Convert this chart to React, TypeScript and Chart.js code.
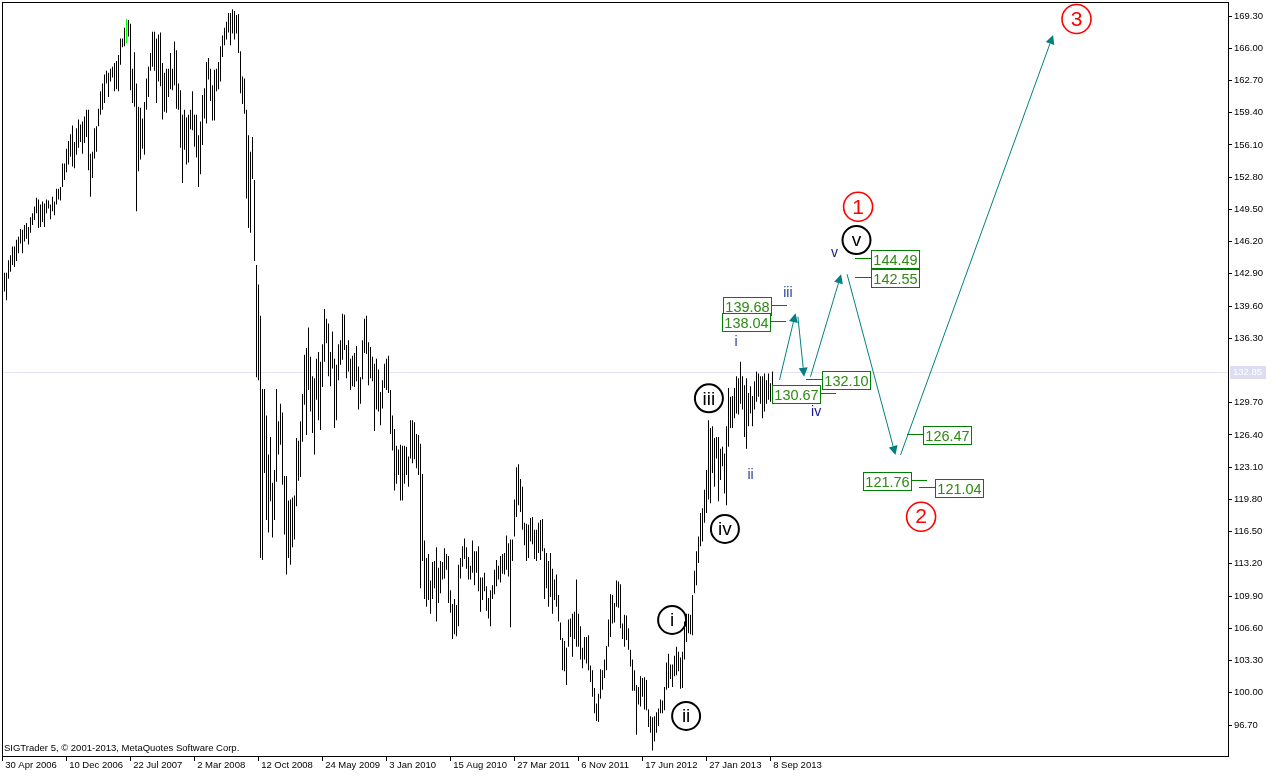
import React, { useEffect, useRef } from "react";
import { Chart, registerables } from "chart.js";

Chart.register(...registerables);

// Weekly bars, 30 Apr 2006 .. Sep 2013 (high / low)
const weekHigh: number[] = [
  143.0, 143.0, 144.3, 144.8, 145.7, 145.7, 146.4, 146.7, 147.5, 147.4,
  147.9, 148.1, 147.7, 148.7, 149.1, 149.8, 150.7, 150.5, 150.0, 150.3,
  150.1, 150.5, 150.4, 150.0, 150.8, 150.3, 151.6, 151.6, 151.8, 154.2,
  154.2, 155.7, 156.5, 157.2, 158.1, 156.4, 157.8, 158.7, 158.2, 158.5,
  159.0, 159.7, 159.7, 155.2, 155.4, 157.8, 158.0, 159.8, 161.6, 162.4,
  163.3, 163.7, 163.5, 163.9, 164.1, 164.5, 164.7, 165.3, 167.0, 167.0,
  168.1, 169.0, 168.9, 168.5, 163.9, 165.6, 162.4, 160.0, 159.9, 158.8,
  160.5, 162.9, 164.1, 165.5, 167.7, 167.7, 167.0, 167.4, 167.6, 164.5,
  163.5, 163.9, 163.9, 165.5, 163.9, 166.7, 165.8, 162.4, 161.7, 159.2,
  159.7, 158.9, 159.2, 159.7, 161.6, 159.2, 159.2, 157.1, 158.5, 161.2,
  161.9, 164.6, 165.0, 163.9, 162.2, 163.8, 163.9, 164.6, 166.2, 167.3,
  168.1, 168.7, 169.6, 169.6, 170.0, 169.8, 169.4, 169.5, 165.7, 163.1,
  162.9, 159.7, 157.1, 155.4, 156.9, 152.5, 143.8, 141.8, 138.6, 131.1,
  131.1, 128.4, 124.4, 126.2, 121.5, 122.8, 131.1, 127.8, 129.6, 128.7,
  122.2, 122.2, 119.7, 119.8, 120.0, 120.2, 126.1, 125.8, 127.8, 130.6,
  134.6, 135.3, 137.4, 134.4, 132.4, 132.2, 134.2, 134.9, 133.9, 135.7,
  139.3, 138.3, 137.8, 134.9, 137.0, 134.2, 133.6, 135.7, 136.1, 138.8,
  138.7, 135.6, 136.1, 134.2, 134.5, 134.8, 135.5, 133.4, 132.3, 136.1,
  138.3, 138.6, 135.9, 135.4, 134.4, 133.7, 134.2, 133.1, 130.8, 132.0,
  133.7, 134.2, 134.5, 131.0, 128.4, 127.0, 125.3, 124.9, 125.4, 125.3,
  125.3, 125.2, 124.2, 127.9, 127.9, 127.7, 126.5, 126.4, 125.5, 122.4,
  115.6, 113.8, 114.2, 111.5, 113.4, 113.5, 114.9, 112.8, 113.5, 113.4,
  114.8, 114.2, 114.0, 110.5, 109.1, 109.6, 109.0, 113.1, 113.8, 115.0,
  115.8, 114.9, 113.9, 113.0, 115.6, 114.5, 114.5, 115.0, 111.8, 111.8,
  112.3, 110.9, 109.7, 110.5, 111.0, 112.6, 113.6, 113.0, 114.0, 114.2,
  114.3, 116.1, 115.3, 115.7, 115.7, 119.8, 123.1, 123.4, 121.9, 121.1,
  117.4, 117.3, 117.2, 117.9, 118.0, 116.7, 116.7, 117.4, 117.7, 117.8,
  114.8, 114.3, 113.5, 114.3, 112.7, 111.6, 112.1, 110.0, 107.2, 105.6,
  105.3, 104.6, 107.5, 107.6, 108.1, 108.3, 111.6, 108.1, 106.8, 104.6,
  105.7, 105.7, 105.9, 102.8, 102.3, 100.5, 98.9, 99.9, 102.4, 102.3,
  103.4, 104.8, 107.5, 110.1, 110.0, 109.2, 111.5, 111.4, 111.1, 107.1,
  108.0, 107.9, 106.6, 104.4, 103.4, 102.3, 100.8, 100.6, 101.7, 101.5,
  101.6, 101.3, 98.3, 97.6, 97.5, 97.6, 98.0, 98.4, 99.3, 99.2,
  100.6, 103.1, 104.0, 102.9, 102.9, 103.8, 104.7, 104.2, 103.6, 104.2,
  107.3, 108.1, 108.1, 108.0, 110.0, 112.5, 114.5, 116.0, 118.4, 118.9,
  120.8, 122.8, 127.9, 127.1, 127.3, 126.1, 126.2, 126.2, 125.0, 125.2,
  124.5, 127.3, 131.2, 130.3, 130.4, 131.2, 132.4, 132.2, 133.9, 132.4,
  131.5, 132.2, 130.7, 131.4, 130.4, 131.9, 132.9, 132.7, 132.4, 132.4,
  132.7, 132.0, 132.7, 131.7, 132.9,
];

const weekLow: number[] = [
  141.1, 140.2, 142.4, 143.1, 143.8, 143.6, 144.2, 145.0, 146.0, 145.0,
  146.2, 146.5, 145.9, 147.1, 147.9, 148.4, 149.1, 147.6, 147.7, 148.2,
  147.7, 149.1, 149.6, 148.5, 149.3, 148.9, 150.0, 150.5, 150.4, 151.8,
  152.5, 153.3, 154.1, 154.9, 153.9, 153.7, 155.1, 155.8, 156.4, 155.2,
  156.3, 156.9, 153.5, 150.8, 152.7, 154.7, 155.4, 158.0, 159.2, 159.7,
  160.4, 162.4, 161.0, 162.6, 163.0, 161.6, 161.8, 161.6, 164.3, 166.1,
  166.2, 166.5, 167.2, 161.7, 160.4, 160.0, 149.3, 153.4, 154.6, 155.7,
  155.1, 159.7, 161.0, 163.7, 164.1, 163.7, 160.4, 162.6, 162.1, 158.7,
  159.5, 159.4, 161.0, 161.8, 161.7, 162.2, 159.8, 159.7, 155.8, 152.2,
  155.6, 154.1, 154.3, 157.7, 157.6, 155.9, 154.8, 151.8, 153.1, 156.1,
  158.8, 158.3, 162.8, 160.6, 158.6, 158.6, 161.6, 161.8, 162.6, 165.1,
  166.3, 166.9, 167.6, 166.3, 167.5, 166.9, 167.5, 165.5, 161.4, 160.3,
  159.3, 150.6, 147.6, 147.1, 152.6, 144.2, 132.3, 132.0, 113.8, 113.6,
  122.5, 117.7, 116.4, 119.6, 115.9, 117.7, 121.6, 124.4, 125.4, 121.3,
  116.2, 112.1, 113.8, 113.1, 114.9, 115.7, 119.1, 121.7, 122.1, 125.7,
  129.5, 126.4, 131.0, 128.8, 126.6, 124.4, 130.0, 127.9, 126.9, 131.3,
  133.9, 135.8, 132.4, 131.4, 133.2, 127.1, 127.9, 132.0, 133.6, 134.1,
  135.1, 132.2, 132.9, 131.0, 131.4, 131.3, 131.9, 129.0, 129.6, 132.1,
  134.8, 134.7, 131.5, 132.2, 131.9, 126.8, 129.0, 128.8, 127.4, 129.1,
  131.2, 131.0, 130.7, 126.5, 124.8, 120.7, 121.4, 122.3, 119.7, 119.7,
  121.4, 122.3, 121.1, 124.0, 123.5, 123.9, 123.0, 122.3, 110.7, 113.5,
  109.6, 108.8, 109.5, 108.1, 109.6, 110.7, 107.3, 109.2, 110.2, 111.6,
  111.7, 112.6, 109.2, 108.2, 105.5, 106.0, 105.8, 106.8, 111.7, 112.9,
  113.7, 112.7, 111.6, 111.6, 112.3, 111.0, 112.3, 110.4, 108.3, 109.5,
  110.4, 108.4, 107.6, 106.8, 109.6, 110.1, 110.9, 111.6, 111.3, 112.2,
  112.1, 112.6, 111.9, 106.7, 113.5, 116.0, 118.0, 119.2, 118.5, 116.7,
  115.1, 113.5, 113.8, 115.5, 115.2, 113.7, 113.5, 114.3, 113.6, 114.5,
  109.6, 110.7, 108.8, 109.8, 108.1, 109.5, 108.8, 107.3, 105.4, 102.3,
  102.2, 100.8, 104.7, 105.7, 103.7, 105.5, 104.7, 104.7, 103.4, 102.5,
  103.4, 103.0, 102.3, 101.1, 99.6, 97.9, 97.1, 97.0, 99.4, 100.3,
  101.5, 102.3, 104.7, 105.7, 107.1, 107.2, 108.8, 108.7, 106.6, 105.5,
  104.7, 105.4, 104.4, 102.7, 100.2, 100.2, 95.7, 98.8, 98.6, 99.6,
  98.3, 98.2, 96.5, 95.9, 94.1, 95.0, 95.9, 96.6, 97.9, 97.9,
  98.2, 100.3, 100.5, 101.4, 100.6, 101.7, 101.8, 102.2, 100.4, 100.5,
  103.4, 105.2, 106.1, 106.0, 105.9, 110.2, 111.0, 113.3, 115.0, 115.5,
  117.4, 118.4, 119.8, 119.4, 122.5, 121.1, 124.0, 119.6, 121.8, 123.2,
  120.4, 119.2, 125.2, 127.1, 127.1, 128.1, 128.6, 128.5, 129.6, 129.0,
  126.2, 125.0, 127.3, 128.6, 127.3, 129.0, 129.8, 130.3, 129.6, 128.1,
  128.8, 129.6, 130.0, 129.8, 131.0,
];

const markedBar = 61; // bar drawn in green

const dateLabels: string[] = [
  "30 Apr 2006", "10 Dec 2006", "22 Jul 2007", "2 Mar 2008", "12 Oct 2008",
  "24 May 2009", "3 Jan 2010", "15 Aug 2010", "27 Mar 2011", "6 Nov 2011",
  "17 Jun 2012", "27 Jan 2013", "8 Sep 2013",
];
const barsPerDateLabel = 32;

const priceTicks: number[] = [
  169.3, 166.0, 162.7, 159.4, 156.1, 152.8, 149.5, 146.2, 142.9, 139.6, 136.3,
  129.7, 126.4, 123.1, 119.8, 116.5, 113.2, 109.9, 106.6, 103.3, 100.0, 96.7,
];

const bidPrice = 132.85;

const priceTags = [
  { price: 144.49, bar: 425, side: "right" },
  { price: 142.55, bar: 425, side: "right" },
  { price: 139.68, bar: 391.3, side: "left" },
  { price: 138.04, bar: 390.5, side: "left" },
  { price: 132.1, bar: 400.5, side: "right" },
  { price: 130.67, bar: 415.5, side: "left" },
  { price: 126.47, bar: 451.3, side: "right" },
  { price: 121.76, bar: 461.3, side: "left" },
  { price: 121.04, bar: 457, side: "right" },
];

const waveArrows = [
  { fromBar: 387.5, fromPrice: 132.03, toBar: 395.5, toPrice: 138.86 },
  { fromBar: 396.7, fromPrice: 138.5, toBar: 399.8, toPrice: 132.37 },
  { fromBar: 403, fromPrice: 132.37, toBar: 418.3, toPrice: 142.85 },
  { fromBar: 421.3, fromPrice: 142.85, toBar: 445.5, toPrice: 124.35 },
  { fromBar: 448, fromPrice: 124.35, toBar: 524.3, toPrice: 167.35 },
];

const circledWaves = [
  { text: "i", bar: 333.8, price: 107.45 },
  { text: "ii", bar: 340.8, price: 97.62 },
  { text: "iii", bar: 352.2, price: 130.15 },
  { text: "iv", bar: 360.2, price: 116.77 },
  { text: "v", bar: 426, price: 146.36 },
];

const minorWaves = [
  { text: "i", bar: 365.8, price: 135.89, color: "#28449c" },
  { text: "ii", bar: 373, price: 122.3, color: "#28449c" },
  { text: "iii", bar: 391.7, price: 140.9, color: "#28449c" },
  { text: "iv", bar: 405.8, price: 128.72, color: "#18188a" },
  { text: "v", bar: 415, price: 145.06, color: "#18188a" },
];

const degreeWaves = [
  { text: "1", bar: 426.8, price: 149.77 },
  { text: "2", bar: 458.3, price: 118.03 },
  { text: "3", bar: 536, price: 168.99 },
];

const FONT = "'Liberation Sans', Arial, sans-serif";

const overlay = {
  id: "overlay",
  beforeDatasetsDraw(chart: any) {
    const { ctx, chartArea: a, scales } = chart;
    const py = Math.round(scales.y.getPixelForValue(bidPrice)) + 0.5;
    ctx.save();
    ctx.strokeStyle = "#e2e2f2";
    ctx.lineWidth = 1;
    ctx.beginPath();
    ctx.moveTo(a.left, py);
    ctx.lineTo(a.right, py);
    ctx.stroke();
    ctx.restore();
  },
  afterDatasetsDraw(chart: any) {
    const { ctx, chartArea: a, scales } = chart;
    const X = (b: number) => scales.x.getPixelForValue(b);
    const Y = (p: number) => scales.y.getPixelForValue(p);
    ctx.save();

    // arrows
    ctx.strokeStyle = "#008080";
    ctx.fillStyle = "#008080";
    ctx.lineWidth = 1;
    for (const w of waveArrows) {
      const x1 = X(w.fromBar), y1 = Y(w.fromPrice);
      const x2 = X(w.toBar), y2 = Y(w.toPrice);
      const ang = Math.atan2(y2 - y1, x2 - x1);
      const len = 9, hw = 4.5;
      const bx = x2 - len * Math.cos(ang), by = y2 - len * Math.sin(ang);
      ctx.beginPath();
      ctx.moveTo(x1, y1);
      ctx.lineTo(bx, by);
      ctx.stroke();
      ctx.beginPath();
      ctx.moveTo(x2, y2);
      ctx.lineTo(bx + hw * Math.sin(ang), by - hw * Math.cos(ang));
      ctx.lineTo(bx - hw * Math.sin(ang), by + hw * Math.cos(ang));
      ctx.closePath();
      ctx.fill();
    }

    // price tags
    const boxW = 48, boxH = 18, lead = 16;
    for (const t of priceTags) {
      const ax = Math.round(X(t.bar));
      const ay = Math.round(Y(t.price)) + 0.5;
      const bx = t.side === "right" ? ax + lead : ax - lead - boxW;
      const lx1 = t.side === "right" ? ax : ax - lead;
      ctx.strokeStyle = "#008000";
      ctx.lineWidth = 1;
      ctx.beginPath();
      ctx.moveTo(lx1, ay);
      ctx.lineTo(lx1 + lead, ay);
      ctx.stroke();
      const by = Math.round(ay - boxH / 2) + 0.5;
      ctx.fillStyle = "#ffffff";
      ctx.fillRect(bx + 0.5, by, boxW, boxH);
      ctx.strokeRect(bx + 0.5, by, boxW, boxH);
      ctx.fillStyle = "#2f8a14";
      ctx.font = `14.5px ${FONT}`;
      ctx.textAlign = "center";
      ctx.textBaseline = "middle";
      ctx.fillText(t.price.toFixed(2), bx + boxW / 2 + 0.5, by + boxH / 2 + 1);
    }

    // circled (black) waves
    for (const c of circledWaves) {
      const x = X(c.bar), y = Y(c.price);
      ctx.strokeStyle = "#000";
      ctx.lineWidth = 2;
      ctx.beginPath();
      ctx.arc(x, y, 14, 0, Math.PI * 2);
      ctx.stroke();
      ctx.fillStyle = "#000";
      ctx.font = `19px ${FONT}`;
      ctx.textAlign = "center";
      ctx.textBaseline = "middle";
      ctx.fillText(c.text, x, y + 1);
    }

    // red degree waves
    for (const c of degreeWaves) {
      const x = X(c.bar), y = Y(c.price);
      ctx.strokeStyle = "#ff0000";
      ctx.lineWidth = 1.6;
      ctx.beginPath();
      ctx.arc(x, y, 14.5, 0, Math.PI * 2);
      ctx.stroke();
      ctx.fillStyle = "#ff0000";
      ctx.font = `21px ${FONT}`;
      ctx.textAlign = "center";
      ctx.textBaseline = "middle";
      ctx.fillText(c.text, x, y + 1);
    }

    // minor waves
    for (const m of minorWaves) {
      ctx.fillStyle = m.color;
      ctx.font = `14px ${FONT}`;
      ctx.textAlign = "center";
      ctx.textBaseline = "middle";
      ctx.fillText(m.text, X(m.bar), Y(m.price));
    }

    // copyright
    ctx.fillStyle = "#000";
    ctx.font = `9.5px ${FONT}`;
    ctx.textAlign = "left";
    ctx.textBaseline = "alphabetic";
    ctx.fillText("SIGTrader 5, \u00a9 2001-2013, MetaQuotes Software Corp.", a.left + 2, a.bottom - 5);

    // frame
    ctx.strokeStyle = "#000";
    ctx.lineWidth = 1;
    ctx.strokeRect(a.left + 0.5, a.top + 0.5, a.right - a.left, a.bottom - a.top);
    ctx.restore();
  },
  afterDraw(chart: any) {
    const { ctx, chartArea: a, scales } = chart;
    const py = Math.round(scales.y.getPixelForValue(bidPrice));
    ctx.save();
    ctx.fillStyle = "#dcdcf2";
    ctx.fillRect(a.right + 2, py - 6, 36, 13);
    ctx.fillStyle = "#ffffff";
    ctx.font = `9.5px ${FONT}`;
    ctx.textAlign = "left";
    ctx.textBaseline = "middle";
    ctx.fillText(bidPrice.toFixed(2), a.right + 5, py + 0.5);
    ctx.restore();
  },
};

export default function App() {
  const ref = useRef<HTMLCanvasElement | null>(null);
  useEffect(() => {
    document.body.style.margin = "0";
    const canvas = ref.current;
    if (!canvas) return;
    const chart = new Chart(canvas, {
      type: "bar",
      data: {
        datasets: [
          {
            data: weekHigh.map((h, i) => ({ x: i, y: [weekLow[i], h] })) as any,
            backgroundColor: weekHigh.map((_, i) => (i === markedBar ? "#00ff00" : "#000000")),
            borderWidth: 0,
            barThickness: 1,
            grouped: false,
            inflateAmount: 0,
          } as any,
        ],
      },
      options: {
        animation: false,
        responsive: false,
        maintainAspectRatio: false,
        events: [],
        layout: { padding: { left: 2, top: 2, right: 0, bottom: 0 } },
        plugins: { legend: { display: false }, tooltip: { enabled: false } },
        scales: {
          x: {
            type: "linear",
            min: -1.25,
            max: 611.75,
            offset: false,
            border: { display: false },
            grid: { drawOnChartArea: false, drawTicks: true, tickLength: 5, color: "#000", offset: false },
            afterBuildTicks: (s: any) => {
              s.ticks = dateLabels.map((_, k) => ({ value: k * barsPerDateLabel - 1 }));
            },
            afterFit: (s: any) => {
              s.height = 21;
              s.paddingLeft = 0;
              s.paddingRight = 0;
            },
            ticks: {
              autoSkip: false,
              maxRotation: 0,
              minRotation: 0,
              align: "start",
              padding: 0,
              color: "#000",
              font: { family: FONT, size: 9.5, lineHeight: 1 },
              callback: (_v: any, idx: number) => " " + dateLabels[idx],
            },
          } as any,
          y: {
            type: "linear",
            position: "right",
            min: 93.5257,
            max: 170.7336,
            border: { display: false },
            grid: { drawOnChartArea: false, drawTicks: true, tickLength: 4, color: "#000" },
            afterBuildTicks: (s: any) => {
              s.ticks = priceTicks.map((v) => ({ value: v }));
            },
            afterFit: (s: any) => {
              s.width = 48;
              s.paddingTop = 0;
              s.paddingBottom = 0;
            },
            ticks: {
              padding: 2,
              color: "#000",
              font: { family: FONT, size: 9.5 },
              callback: (v: any) => Number(v).toFixed(2),
            },
          } as any,
        },
      },
      plugins: [overlay],
    });
    return () => chart.destroy();
  }, []);
  return <canvas ref={ref} width={1276} height={777} style={{ display: "block" }} />;
}
